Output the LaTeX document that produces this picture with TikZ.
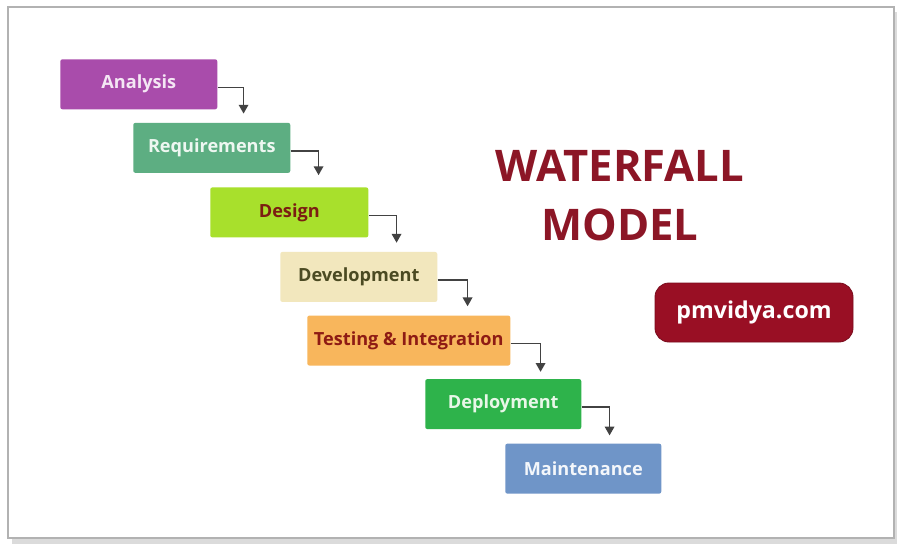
\documentclass[tikz,border=0pt]{standalone}
\usepackage{fontspec}
\setmainfont{Open Sans}
\usetikzlibrary{positioning, arrows.meta}

\definecolor{anafill}{HTML}{A94CAB}
\definecolor{anatext}{HTML}{F4E6F4}
\definecolor{reqfill}{HTML}{5DAE82}
\definecolor{reqtext}{HTML}{EEF7F1}
\definecolor{desfill}{HTML}{A8E02C}
\definecolor{destext}{HTML}{7B1E12}
\definecolor{devfill}{HTML}{F2E7BD}
\definecolor{devtext}{HTML}{4B4A22}
\definecolor{tstfill}{HTML}{F8B65C}
\definecolor{tsttext}{HTML}{8E1B14}
\definecolor{depfill}{HTML}{2EB34B}
\definecolor{deptext}{HTML}{E8F7E8}
\definecolor{mntfill}{HTML}{6F95C8}
\definecolor{mnttext}{HTML}{F4F7FB}
\definecolor{titlered}{HTML}{8C1626}
\definecolor{sitered}{HTML}{990F24}
\definecolor{arrowgray}{HTML}{424242}

\tikzset{
  phase/.style={rectangle, rounded corners=1.5pt, minimum width=3.925cm, minimum height=1.25cm, inner sep=0pt, anchor=north west, font=\fontsize{12.9}{15}\selectfont\bfseries},
  flow/.style={draw=arrowgray, line width=1pt, -{Triangle[width=0.24cm, length=0.22cm]}},
}

\begin{document}
\begin{tikzpicture}
			\useasboundingbox (0,0) rectangle (22.425,-13.625);
			% Frame
			\fill [black!14] (0.3,-0.3) rectangle (22.425,-13.6);
			\draw [black!30, line width=0.8pt, fill=white] (0.2,-0.175) rectangle (22.35,-13.45);

			% Nodes
			\node (ana) [phase, fill=anafill, text=anatext] at (1.5,-1.475) {Analysis};
			\node (req) [phase, fill=reqfill, text=reqtext, below right=0.325cm and 1.825cm of ana.south west] {Requirements};
			\node (des) [phase, fill=desfill, text=destext, minimum width=3.95cm, below right=0.35cm and 1.925cm of req.south west] {Design};
			\node (dev) [phase, fill=devfill, text=devtext, below right=0.35cm and 1.75cm of des.south west] {Development};
			\node (tst) [phase, fill=tstfill, text=tsttext, minimum width=5.075cm, below right=0.325cm and 0.675cm of dev.south west] {Testing \& Integration};
			\node (dep) [phase, fill=depfill, text=deptext, minimum width=3.9cm, below right=0.325cm and 2.95cm of tst.south west] {Deployment};
			\node (mnt) [phase, fill=mntfill, text=mnttext, minimum width=3.9cm, below right=0.35cm and 2cm of dep.south west] {Maintenance};

			\node (title) [font=\fontsize{31}{42}\selectfont\bfseries, text=titlered, align=center] at (15.5,-4.9) {WATERFALL\\MODEL};
			\node (site) [rectangle, rounded corners=0.35cm, draw=sitered!80!black, line width=0.6pt, fill=sitered, text=white, minimum width=4.95cm, minimum height=1.475cm, font=\fontsize{16.5}{20}\selectfont\bfseries] at (18.85,-7.8125) {pmvidya.com};

			% Edges
			\draw [flow] ([yshift=-0.075cm]ana.east) -| ([xshift=0.65cm, yshift=0.225cm]ana.east |- req.north);
			\draw [flow] ([yshift=-0.075cm]req.east) -| ([xshift=0.7cm, yshift=0.3cm]req.east |- des.north);
			\draw [flow] ([yshift=-0.075cm]des.east) -| ([xshift=0.7cm, yshift=0.225cm]des.east |- dev.north);
			\draw [flow] ([yshift=-0.075cm]dev.east) -| ([xshift=0.75cm, yshift=0.225cm]dev.east |- tst.north);
			\draw [flow] ([yshift=-0.075cm]tst.east) -| ([xshift=0.75cm, yshift=0.175cm]tst.east |- dep.north);
			\draw [flow] ([yshift=-0.075cm]dep.east) -| ([xshift=0.7cm, yshift=0.2cm]dep.east |- mnt.north);

		\end{tikzpicture}
\end{document}
